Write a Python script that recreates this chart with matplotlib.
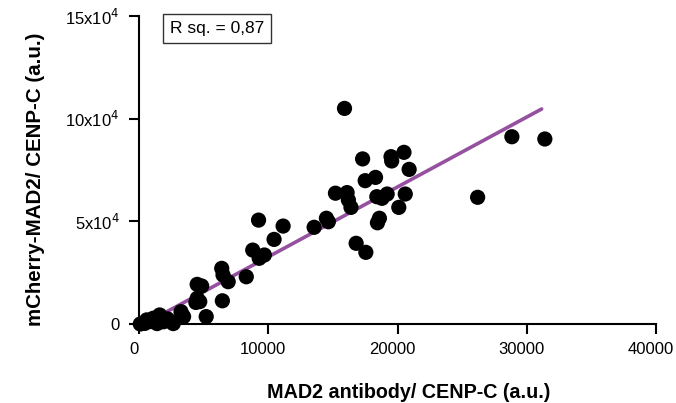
import matplotlib
matplotlib.use("Agg")
import matplotlib.pyplot as plt
import matplotlib.transforms as mtransforms

plt.rcParams["font.family"] = ["Liberation Sans", "DejaVu Sans"]

mad2_ab = [
    15900, 17300, 19500, 19550, 20500, 20900, 17500, 18300, 15200, 16100,
    16200, 16400, 18400, 18800, 19200, 20600, 20100, 18600, 18450, 14500,
    14650, 13550, 16800, 17550, 9250, 11150, 10450, 8800, 9700, 9300,
    28850, 31400, 26200,
    6400, 6500, 6900, 8300, 4500, 4850, 4500, 4700, 4400, 6450,
    5200, 3250, 3450, 2500, 1600, 1100, 600, 100, 450, 1900,
    2650, 1400, 900, 2200,
]
mcherry_mad2 = [
    105000, 80400, 81500, 79400, 83600, 75300, 69800, 71400, 63700, 64000,
    60400, 56800, 62000, 61200, 63300, 63300, 56800, 51500, 49300, 51500,
    49800, 47100, 39300, 34900, 50600, 47700, 41200, 36000, 33600, 32000,
    91200, 90100, 61700,
    27100, 23900, 20600, 23000, 19300, 18500, 12500, 10900, 10500, 11300,
    3600, 6000, 3600, 1100, 4400, 2800, 2000, 0, 300, 1100,
    200, 200, 1200, 2500,
]

fit_x = [500, 31150]
fit_y = [375, 104700]
r_sq = "0,87"

x_ticks = [0, 10000, 20000, 30000, 40000]
y_ticks = [0, 50000, 100000, 150000]
y_ticklabels = ["0", r"5x10$^4$", r"10x10$^4$", r"15x10$^4$"]

fig = plt.figure(figsize=(6.76, 4.03), dpi=100)
ax = fig.add_axes([139 / 676, 1 - 324 / 403, (656 - 139) / 676, (324 - 16) / 403])

ax.plot(fit_x, fit_y, color="#9551a0", lw=2.6, solid_capstyle="round", zorder=2)
ax.scatter(mad2_ab, mcherry_mad2, s=120, color="black", edgecolors="none",
           zorder=3, clip_on=False)

ax.set_xlim(0, 40000)
ax.set_ylim(0, 150000)
ax.set_xticks(x_ticks)
ax.set_xticklabels([str(t) for t in x_ticks])
ax.set_yticks(y_ticks)
ax.set_yticklabels(y_ticklabels)

for side in ("top", "right"):
    ax.spines[side].set_visible(False)
for side in ("left", "bottom"):
    ax.spines[side].set_linewidth(1.5)
ax.tick_params(direction="out", length=7, width=1.5, labelsize=12)
ax.tick_params(axis="x", pad=6)
ax.tick_params(axis="y", pad=7)

# x-Beschriftungen leicht nach links wie im Original
shift = mtransforms.ScaledTranslation(-5 / 100, 0, fig.dpi_scale_trans)
for lbl in ax.get_xticklabels():
    lbl.set_transform(lbl.get_transform() + shift)

ax.set_xlabel("MAD2 antibody/ CENP-C (a.u.)", fontsize=14.2, fontweight="bold")
ax.set_ylabel("mCherry-MAD2/ CENP-C (a.u.)", fontsize=14.8, fontweight="bold")
ax.xaxis.label.set_va("baseline")
ax.xaxis.set_label_coords(0.522, -0.240)
ax.yaxis.label.set_va("center")
ax.yaxis.set_label_coords(-0.201, 0.471)

ax.text(0.151, 0.958, f"R sq. = {r_sq}", transform=ax.transAxes, fontsize=12.5,
        va="center", ha="center",
        bbox=dict(boxstyle="square,pad=0.4", fc="white", ec="#333333", lw=1))

fig.savefig("out.png", dpi=100)
